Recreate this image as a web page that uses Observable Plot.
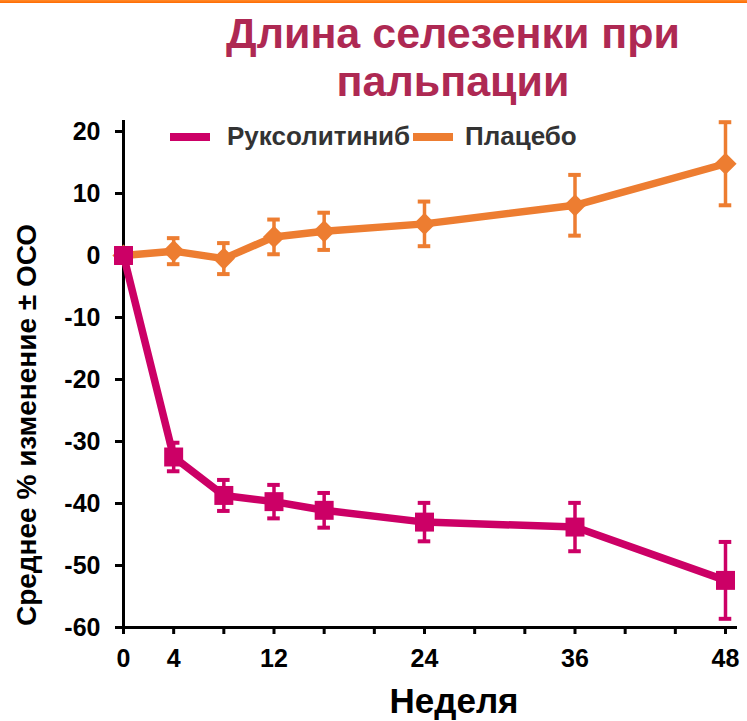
<!DOCTYPE html>
<html>
<head>
<meta charset="utf-8">
<script src="https://cdn.jsdelivr.net/npm/d3@7"></script>
<script src="https://cdn.jsdelivr.net/npm/@observablehq/plot@0.6"></script>
<style>
  html, body { margin: 0; padding: 0; background: #fff; }
  #chart { position: relative; width: 747px; height: 721px; overflow: hidden;
           font-family: "Liberation Sans", Arial, sans-serif; font-weight: bold; }
  #chart svg { position: absolute; left: 0; top: 0; }
  .topbar { position: absolute; left: 0; top: 0; width: 747px; height: 3px;
            background: linear-gradient(#ff8a2a, #ff6a00); }
  .title { position: absolute; left: 0; width: 906px; top: 9px; text-align: center;
           font-size: 43px; line-height: 48px; color: #ae2953; }
  .legend-swatch { position: absolute; height: 8px; width: 40px; top: 133px; }
  .legend-text { position: absolute; top: 123px; font-size: 26px; line-height: 26px;
                 color: #333; white-space: nowrap; }
  .ylabel { position: absolute; left: 27px; top: 425px; font-size: 28px; line-height: 28px;
            white-space: nowrap; color: #000;
            transform: translate(-50%, -50%) rotate(-90deg); }
  .xlabel { position: absolute; left: 454px; top: 683px; font-size: 35px; line-height: 35px;
            transform: translateX(-50%); color: #000; white-space: nowrap; }
</style>
</head>
<body>
<div id="chart">
  <div class="topbar"></div>
</div>
<script>
// Spleen length by palpation: mean % change from baseline ± SE
const weeks = [0, 4, 8, 12, 16, 24, 36, 48];
const ruxMean = [0, -32.5, -38.7, -39.7, -41.1, -43.0, -43.8, -52.4];
const ruxSE   = [0, 2.3, 2.5, 2.7, 2.8, 3.1, 3.9, 6.2];
const placeboMean = [0, 0.7, -0.5, 3.0, 3.9, 5.1, 8.1, 14.8];
const placeboSE   = [0, 2.1, 2.5, 2.8, 3.0, 3.6, 4.9, 6.7];

const seriesNames = ["Руксолитиниб", "Плацебо"];
const seriesColors = ["#cc0066", "#ed7d31"];
const seriesSymbols = ["square", "diamond2"];

const yTicks = [-60, -50, -40, -30, -20, -10, 0, 10, 20];
const xTickLabels = [0, 4, 12, 24, 36, 48];
const xTicks = d3.range(0, 49, 4);

const titleLines = ["Длина селезенки при", "пальпации"];
const yLabel = "Среднее % изменение ± ОСО";
const xLabel = "Неделя";

const rows = (mean, se) => weeks.map((w, i) => ({week: w, mean: mean[i], se: se[i]}));
const series = [rows(ruxMean, ruxSE), rows(placeboMean, placeboSE)];

// Error bar, line and marker layers for one series
function seriesMarks(data, color, symbol) {
  const bars = data.filter(d => d.se > 0);
  const capHalf = 0.5;
  return [
    Plot.ruleX(bars, {x: "week", y1: d => d.mean - d.se, y2: d => d.mean + d.se, stroke: color, strokeWidth: 3.5}),
    Plot.ruleY(bars, {y: d => d.mean - d.se, x1: d => d.week - capHalf, x2: d => d.week + capHalf, stroke: color, strokeWidth: 4}),
    Plot.ruleY(bars, {y: d => d.mean + d.se, x1: d => d.week - capHalf, x2: d => d.week + capHalf, stroke: color, strokeWidth: 4}),
    Plot.line(data, {x: "week", y: "mean", stroke: color, strokeWidth: 7.5, strokeLinejoin: "round"}),
    Plot.dot(data, {x: "week", y: "mean", symbol, r: symbol === "square" ? 10.7 : 10, fill: color, stroke: "none"})
  ];
}

const svg = Plot.plot({
  width: 747,
  height: 721,
  marginLeft: 123,
  marginRight: 22,
  marginTop: 131,
  marginBottom: 94,
  style: {fontFamily: "'Liberation Sans', Arial, sans-serif", fontSize: "25px", fontWeight: "bold",
          color: "#000", background: "transparent", overflow: "visible"},
  x: {domain: [0, 48]},
  y: {domain: [-60, 20]},
  marks: [
    Plot.axisY({ticks: yTicks, tickSize: 8, tickPadding: 15, tickFormat: d => String(d), strokeWidth: 3, label: null}),
    Plot.axisX({ticks: xTicks, tickSize: 7, tickPadding: 15,
                tickFormat: d => xTickLabels.includes(d) ? String(d) : "", strokeWidth: 3, label: null}),
    Plot.ruleX([0], {stroke: "#000", strokeWidth: 3, insetTop: -11, insetBottom: -1.5}),
    Plot.ruleY([-60], {stroke: "#000", strokeWidth: 3, insetRight: -12, insetLeft: -1.5}),
    ...seriesMarks(series[1], seriesColors[1], seriesSymbols[1]),
    ...seriesMarks(series[0], seriesColors[0], seriesSymbols[0])
  ]
});

const chart = document.getElementById("chart");
chart.appendChild(svg);

// Title
const title = document.createElement("div");
title.className = "title";
title.innerHTML = titleLines.join("<br>");
chart.appendChild(title);

// Legend
const legendLayout = [
  {swatch: 170, text: 227},
  {swatch: 413, text: 465}
];
seriesNames.forEach((name, i) => {
  const sw = document.createElement("div");
  sw.className = "legend-swatch";
  sw.style.left = legendLayout[i].swatch + "px";
  sw.style.background = seriesColors[i];
  chart.appendChild(sw);
  const tx = document.createElement("div");
  tx.className = "legend-text";
  tx.style.left = legendLayout[i].text + "px";
  tx.textContent = name;
  chart.appendChild(tx);
});

// Axis titles
const yl = document.createElement("div");
yl.className = "ylabel";
yl.textContent = yLabel;
chart.appendChild(yl);
const xl = document.createElement("div");
xl.className = "xlabel";
xl.textContent = xLabel;
chart.appendChild(xl);
</script>
</body>
</html>
